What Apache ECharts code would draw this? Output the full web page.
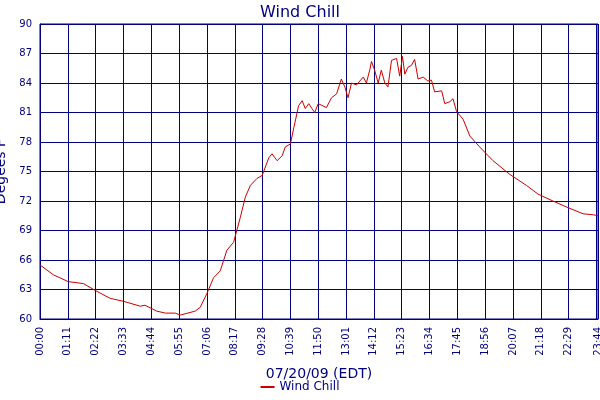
<!DOCTYPE html>
<html>
<head>
<meta charset="UTF-8">
<title>Wind Chill</title>
<script src="https://cdn.jsdelivr.net/npm/echarts@6/dist/echarts.min.js"></script>
</head>
<body style="margin:0">
<div id="container" style="width:600px;height:400px;"></div>
<script>
// minutes after midnight, and wind chill in degrees F
var minutes = [0,34,72,111,141,179,213,256,268,298,320,345,358,396,409,426,443,460,477,494,511,524,537,554,567,584,592,605,618,626,639,648,660,669,677,686,694,701,710,731,744,757,769,778,786,795,808,816,825,833,842,846,854,863,871,880,888,897,910,918,925,931,939,948,956,965,978,990,999,1007,1025,1033,1046,1054,1063,1080,1097,1122,1156,1199,1241,1271,1309,1343,1386,1412,1424];
var windChill = [65.5,64.5,63.8,63.6,62.9,62.1,61.8,61.3,61.4,60.8,60.6,60.6,60.4,60.8,61.2,62.6,64.2,64.9,67.0,67.8,70.3,72.4,73.6,74.3,74.6,76.4,76.8,76.1,76.6,77.5,77.8,79.5,81.7,82.2,81.4,81.9,81.4,81.0,81.9,81.5,82.5,82.9,84.4,83.6,82.5,84.0,83.8,84.2,84.6,84.0,85.4,86.2,85.3,84.0,85.3,84.0,83.6,86.3,86.5,84.7,86.7,84.9,85.6,85.8,86.4,84.4,84.6,84.2,84.3,83.1,83.2,81.9,82.1,82.4,81.1,80.3,78.6,77.5,76.1,74.7,73.6,72.7,72.0,71.4,70.7,70.6,70.5];

var points = [];
for (var i = 0; i < minutes.length; i++) {
    points.push([minutes[i], windChill[i]]);
}

function hhmm(v) {
    var h = Math.floor(v / 60), m = Math.round(v % 60);
    return (h < 10 ? '0' : '') + h + ':' + (m < 10 ? '0' : '') + m;
}

var navy = '#000080';
var mychart = echarts.init(document.getElementById("container"));
var option = {
    backgroundColor: '#fff',
    animation: false,
    textStyle: { fontFamily: 'DejaVu Sans' },
    title: {
        text: 'Wind Chill', left: 'center', top: 0,
        textStyle: { color: navy, fontSize: 16, fontWeight: 'normal' }
    },
    legend: {
        bottom: 2, left: 'center', itemWidth: 14, itemHeight: 2,
        icon: 'rect',
        textStyle: { color: navy, fontSize: 12 },
        data: ['Wind Chill']
    },
    grid: { left: 40, right: 2, top: 24, bottom: 81, outerBoundsMode: 'none', containLabel: false,
        show: true, borderColor: navy, borderWidth: 1 },
    xAxis: {
        type: 'value', min: 0, max: 1424, interval: 71,
        name: '07/20/09 (EDT)', nameLocation: 'middle', nameGap: 48,
        nameTextStyle: { color: navy, fontSize: 14 },
        axisLine: { lineStyle: { color: navy } },
        axisTick: { show: false },
        axisLabel: { rotate: 90, color: navy, fontSize: 10, showMaxLabel: true, hideOverlap: false, formatter: hhmm },
        splitLine: { lineStyle: { color: navy, width: 1 } }
    },
    yAxis: {
        type: 'value', min: 60, max: 90, interval: 3,
        name: 'Degees F', nameLocation: 'middle', nameGap: 26,
        nameTextStyle: { color: navy, fontSize: 14 },
        axisLine: { show: true, lineStyle: { color: navy } },
        axisTick: { show: false },
        axisLabel: { color: navy, fontSize: 10 },
        splitLine: { lineStyle: { color: navy, width: 1 } }
    },
    series: [{
        name: 'Wind Chill', type: 'line', data: points,
        showSymbol: false, lineStyle: { color: '#cc0000', width: 1 },
        itemStyle: { color: '#cc0000' }
    }]
};
mychart.setOption(option);
</script>
</body>
</html>
